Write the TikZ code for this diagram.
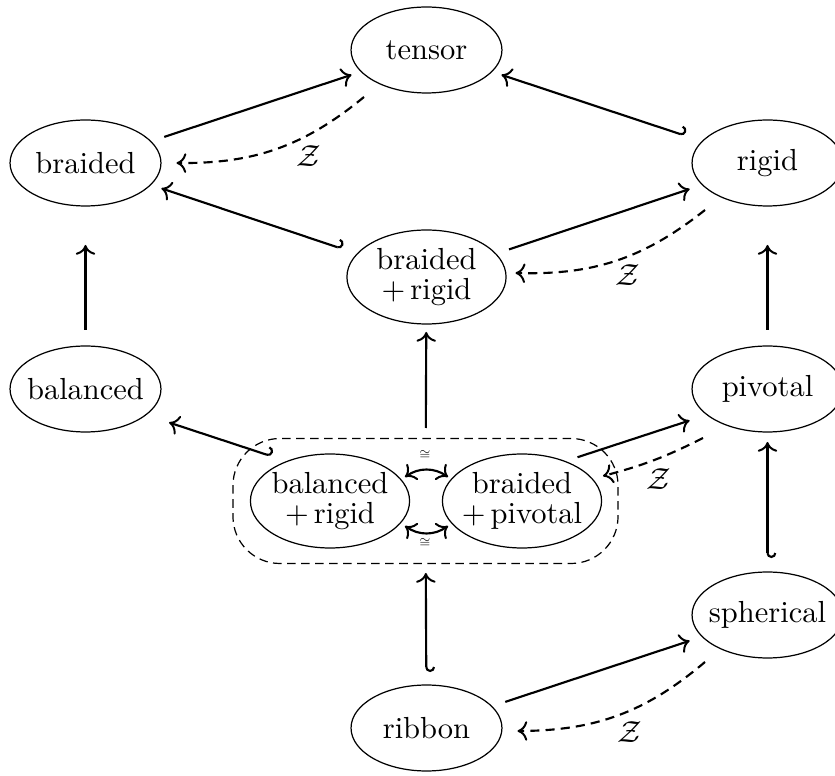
\documentclass[tikz,border=0pt]{standalone}
\usetikzlibrary{shapes.geometric,arrows.meta,calc}
\def\pxu{0.328pt}
\newcommand\zw[1]{\makebox[0pt]{#1}}
\newcommand\twol[2]{\makebox[0pt]{\begin{tabular}{@{}c@{}}#1\\[-2.2pt]#2\end{tabular}}}
\begin{document}
\begin{tikzpicture}[x=\pxu,y=\pxu,
  >={Computer Modern Rightarrow[length=3.2pt,width=6.4pt,line width=0.65pt]},
  ell/.style={ellipse,draw,inner sep=0pt,minimum width=49.5pt,minimum height=28.2pt},
  ellt/.style={ellipse,draw,inner sep=0pt,minimum width=52.2pt,minimum height=30.2pt},
  arr/.style={->,line width=0.7pt},
  harr/.style={{Hooks[left]}->,line width=0.7pt},
  darr/.style={->,line width=0.7pt,dash pattern=on 3pt off 2pt},
  boxst/.style={draw,dash pattern=on 2.8pt off 1.8pt,rounded corners=15.4pt,minimum width=126.3pt,minimum height=41pt,inner sep=0pt},
  zl/.style={inner sep=0pt}]
\useasboundingbox (0,0) rectangle (835,776);
\clip (0,0) rectangle (835,776);
% nodes
\node[ell] (T) at (426.5,726) {\zw{tensor}};
\node[ell] (Br) at (85.5,613) {\zw{braided}};
\node[ell] (Ri) at (767.5,613) {\zw{rigid}};
\node[ellt] (BR) at (426.5,499) {\twol{braided}{$+$\,rigid}};
\node[ell] (Ba) at (85.5,387) {\zw{balanced}};
\node[ell] (Pi) at (767.5,387) {\zw{pivotal}};
\node[boxst] (Box) at (425.5,275) {};
\node[ellt] (BaR) at (330,275) {\twol{balanced}{$+$\,rigid}};
\node[ellt] (BrP) at (522,275) {\twol{braided}{$+$\,pivotal}};
\node[ell] (Sp) at (767.5,161) {\zw{spherical}};
\node[ell] (Rb) at (426.5,48) {\zw{ribbon}};
% labels
\node[zl] (z1) at (309,620) {$\mathcal{Z}$};
\node[zl] (z2) at (628,501) {$\mathcal{Z}$};
\node[zl] (z3) at (659,297) {$\mathcal{Z}$};
\node[zl] (z4) at (630,44) {$\mathcal{Z}$};
\node[zl] (c1) at (425,321) {\scalebox{0.45}{$\cong$}};
\node[zl] (c2) at (425,233) {\scalebox{0.45}{$\cong$}};
% solid arrows
\draw[arr, shorten <=83*\pxu, shorten >=79*\pxu] (Br.center) -- (T.center);
\draw[harr, shorten <=87*\pxu, shorten >=79*\pxu] (Ri.center) -- (T.center);
\draw[harr, shorten <=89*\pxu, shorten >=80*\pxu] (BR.center) -- (Br.center);
\draw[arr, shorten <=87*\pxu, shorten >=82*\pxu] (BR.center) -- (Ri.center);
\draw[arr, shorten <=59*\pxu, shorten >=82*\pxu] (Ba.center) -- (Br.center);
\draw[arr, shorten <=59*\pxu, shorten >=82*\pxu] (Pi.center) -- (Ri.center);
\draw[arr, shorten <=73*\pxu, shorten >=55*\pxu] (Box.center) -- (BR.center);
\draw[harr, shorten <=56*\pxu, shorten >=72*\pxu] (Rb.center) -- (Box.center);
\draw[harr, shorten <=57*\pxu, shorten >=53*\pxu] (Sp.center) -- (Pi.center);
\draw[harr, shorten <=162*\pxu, shorten >=88*\pxu] ([yshift=-6*\pxu]Box.center) -- ([yshift=-6*\pxu]Ba.center);
\draw[arr, shorten <=160*\pxu, shorten >=82*\pxu] ([yshift=-6*\pxu]Box.center) -- ([yshift=-6*\pxu]Pi.center);
\draw[arr, shorten <=83*\pxu, shorten >=82*\pxu] (Rb.center) -- (Sp.center);
% dashed Z arrows
\draw[darr] ($(T.center)+(-62.5,-47)$) to[bend left=20] ($(Br.center)+(91,0)$);
\draw[darr] ($(Ri.center)+(-62.5,-47)$) to[bend left=20] ($(BR.center)+(89,4)$);
\draw[darr] ($(Pi.center)+(-64.5,-49)$) to[bend left=6] ($(Box.center)+(177.5,25)$);
\draw[darr] ($(Sp.center)+(-62.5,-47)$) to[bend left=20] ($(Rb.center)+(91,-3)$);
% iso arrows
\draw[<->, line width=0.7pt] ($(BaR.center)+(75,24)$) to[bend left=35] ($(BrP.center)+(-74,24)$);
\draw[<->, line width=0.7pt] ($(BaR.center)+(75,-25)$) to[bend right=35] ($(BrP.center)+(-74,-25)$);
\end{tikzpicture}
\end{document}
